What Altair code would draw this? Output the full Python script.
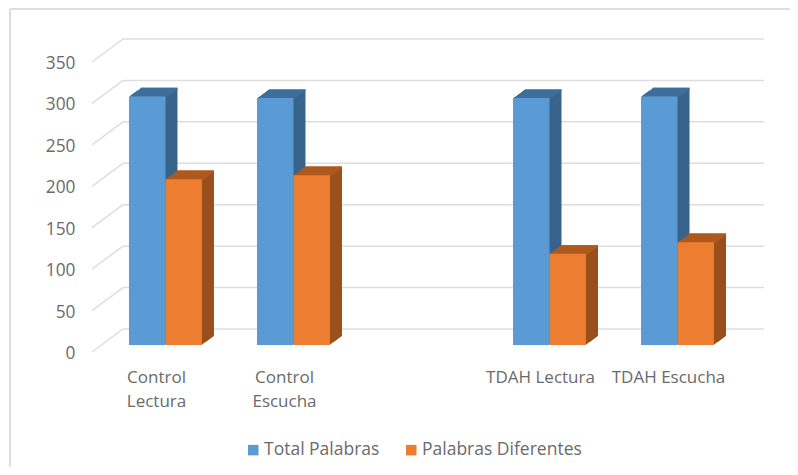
import altair as alt
import pandas as pd

categories = ["Control Lectura", "Control Escucha", " ", "TDAH Lectura", "TDAH Escucha"]
series = ["Total Palabras", "Palabras Diferentes"]
total_palabras = [300, 298, 298, 300]
palabras_diferentes = [200, 205, 110, 124]
y_ticks = [0, 50, 100, 150, 200, 250, 300, 350]

FONT = "Open Sans"
TEXT = "#6a6a6a"
GRID = "#dedede"
FRONT = ["#5B9BD5", "#ED7D31"]
SIDE = ["#38648C", "#99501C"]
TOP = ["#41719F", "#B35C1E"]

present = [c for c in categories if c.strip()]
df = pd.DataFrame(
    [{"Grupo": c, "Serie": series[0], "Valor": v} for c, v in zip(present, total_palabras)]
    + [{"Grupo": c, "Serie": series[1], "Valor": v} for c, v in zip(present, palabras_diferentes)]
)
ticks = pd.DataFrame({"t": y_ticks})

W, H = 782, 459
BAR = 36.5
x_scale = alt.Scale(domain=categories, range=[121, 706], paddingInner=0.43, paddingOuter=0)
y_scale = alt.Scale(domain=[0, 350], range=[344, 54], nice=False, zero=False)

x_axis = alt.Axis(
    title=None, domain=False, ticks=False, grid=False, labelAngle=0, labelAlign="center",
    labelBaseline="top", offset=-(H - 361), labelPadding=0, labelOffset=-9,
    labelFont=FONT, labelFontSize=17, labelColor=TEXT, labelLineHeight=24, labelLimit=200,
    labelExpr="datum.label == 'Control Lectura' ? ['Control', 'Lectura'] : "
              "datum.label == 'Control Escucha' ? ['Control', 'Escucha'] : datum.label")
y_axis = alt.Axis(
    title=None, domain=False, ticks=False, grid=False, values=y_ticks, offset=-67,
    labelPadding=0, labelOffset=1.5, labelFont=FONT, labelFontSize=17.3, labelColor=TEXT)

x_enc = alt.X("Grupo:N", scale=x_scale, axis=x_axis)
y_enc = alt.Y("Valor:Q", scale=y_scale, axis=y_axis, stack=None)
t_enc = alt.Y("t:Q", scale=y_scale, axis=y_axis)

frame_left = alt.Chart(ticks).mark_rule(color=GRID, strokeWidth=2).encode(
    x=alt.value(2), y=alt.value(1), y2=alt.value(H))
frame_top = alt.Chart(ticks).mark_rule(color=GRID, strokeWidth=2).encode(
    x=alt.value(2), x2=alt.value(W), y=alt.value(1))

grid_back = alt.Chart(ticks).mark_rule(color=GRID, strokeWidth=1.5, yOffset=-23).encode(
    x=alt.value(115), x2=alt.value(756), y=t_enc)
grid_slant = alt.Chart(ticks).transform_calculate(t3="datum.t + 23 / (290 / 350)").mark_rule(
    color=GRID, strokeWidth=1.5).encode(
    x=alt.value(115), x2=alt.value(84),
    y=alt.Y("t3:Q", scale=y_scale, axis=y_axis),
    y2=alt.Y2("t:Q"))

BASE = -7
DEPTH = 12
layers = [frame_left, frame_top, grid_back, grid_slant]
for s, name in enumerate(series):
    part = df[df["Serie"] == name]
    shift = (s - 0.5) * BAR
    for i in range(DEPTH, 0, -1):
        dy = BASE - 8.7 * i / DEPTH
        layers.append(alt.Chart(part).transform_calculate(z="0").mark_bar(
            color=SIDE[s], width=BAR, xOffset=shift + i, yOffset=dy, y2Offset=dy).encode(
            x=x_enc, y=y_enc, y2=alt.Y2("z:Q")))
        layers.append(alt.Chart(part).transform_calculate(b="datum.Valor - 2").mark_bar(
            color=TOP[s], width=BAR, xOffset=shift + i, yOffset=dy, y2Offset=dy).encode(
            x=x_enc, y=y_enc, y2=alt.Y2("b:Q")))
    layers.append(alt.Chart(part).transform_calculate(z="0").mark_bar(
        width=BAR, xOffset=shift, yOffset=BASE, y2Offset=BASE).encode(
        x=x_enc, y=y_enc, y2=alt.Y2("z:Q"),
        color=alt.Color("Serie:N", scale=alt.Scale(domain=series, range=FRONT), legend=alt.Legend(
            title=None, orient="none", legendX=236.5, legendY=433, direction="horizontal",
            symbolType="square", symbolSize=110, symbolStrokeWidth=0, columnPadding=23,
            labelOffset=2, labelFont=FONT, labelFontSize=17.5, labelColor=TEXT, labelLimit=300))))

chart = alt.layer(*layers).resolve_scale(color="shared").properties(
    width=W, height=H, padding=0, autosize=alt.AutoSizeParams(type="none"),
    background="white",
).configure_view(stroke=None)

chart.save("out.html", embed_options={"renderer": "svg", "actions": False})
